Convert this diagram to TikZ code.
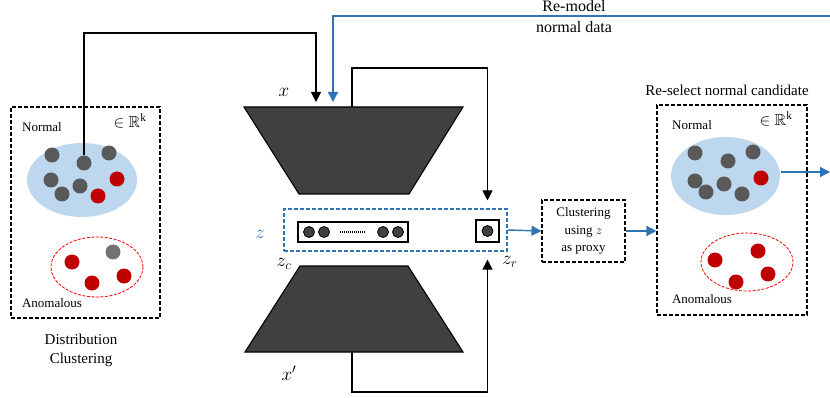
\RequirePackage{fix-cm}
\documentclass[tikz,border=0pt]{standalone}
\usepackage{fontspec}
\setmainfont{Liberation Serif}
\usepackage{amssymb}
\usetikzlibrary{arrows.meta,shapes.geometric}

\definecolor{lblue}{HTML}{BDD7EE}
\definecolor{mblue}{HTML}{2E75B6}
\definecolor{dred}{HTML}{C00000}
\definecolor{dgray}{HTML}{595959}
\definecolor{lgray}{HTML}{767171}
\definecolor{encgray}{HTML}{404040}

\begin{document}
\begin{tikzpicture}[x=1pt,y=-1pt,line width=1.1pt]
\tikzstyle{every node}=[inner sep=0pt]
\tikzstyle{gdot}=[circle,minimum size=15pt,fill=dgray]
\tikzstyle{rdot}=[circle,minimum size=15pt,fill=dred]
\tikzstyle{sdot}=[circle,minimum size=11pt,fill=encgray,draw=black,line width=0.8pt]
\tikzstyle{dbox}=[draw,dash pattern=on 4pt off 2pt]
\tikzstyle{cloud}=[ellipse,fill=lblue]
\tikzstyle{anom}=[ellipse,draw=red,dash pattern=on 3pt off 1.5pt,line width=0.8pt]
\tikzstyle{lbl}=[font=\fontsize{13}{15}\selectfont]
\tikzstyle{big}=[font=\fontsize{15}{19}\selectfont,align=center]
\tikzstyle{mth}=[font=\fontsize{19}{21}\selectfont]
\tikzstyle{arr}=[-{Triangle[width=10pt,length=10pt]}]
\tikzstyle{barr}=[arr,draw=mblue,line width=1.4pt]
\useasboundingbox (0,0) rectangle (830,398);

% left space: distribution clustering
\node (lbox) [dbox,minimum width=149pt,minimum height=211pt] at (85.5,212.5) {};
\node (lnorm) [cloud,minimum width=110pt,minimum height=74pt] at (82,180) {};
\node (lanom) [anom,minimum width=92pt,minimum height=60pt] at (97,267) {};
\node (ln1) [lbl] at (42,127) {Normal};
\node (la1) [lbl] at (52,303) {Anomalous};
\node (lr) [mth,font=\fontsize{16}{19}\selectfont] at (130,121) {$\in\mathbb{R}^{\mathrm{k}}$};
\node (ldc) [big] at (81,350) {Distribution\\Clustering};
\node (l1) [gdot] at (52,155) {};
\node (l2) [gdot] at (84,163) {};
\node (l3) [gdot] at (109,153) {};
\node (l4) [gdot] at (51,180) {};
\node (l5) [gdot] at (62,194) {};
\node (l6) [gdot] at (80,186) {};
\node (l7) [rdot] at (117,179) {};
\node (l8) [rdot] at (98,196) {};
\node (l9) [rdot] at (72,262) {};
\node (l10) [gdot,fill=lgray] at (113,252) {};
\node (l11) [rdot] at (92,283) {};
\node (l12) [rdot] at (124,276) {};

% encoder / decoder
\draw[fill=encgray] (244,107) -- (463,107) -- (409,194) -- (299,194) -- cycle;
\draw[fill=encgray] (300,266) -- (408,266) -- (463,352) -- (245,352) -- cycle;
\coordinate (xin) at (316,107);
\coordinate (xre) at (333,107);
\coordinate (etop) at (352,107);
\coordinate (dbot) at (352,352);
\node (x) [mth] at (284,92) {$x$};
\node (xp) [mth] at (289,373) {$x'$};

% latent space
\node (zbox) [dbox,draw=mblue,minimum width=223pt,minimum height=42pt] at (395.5,230) {};
\node (zc) [draw,fill=white,minimum width=110pt,minimum height=20pt] at (353,232) {};
\node (zr) [draw,fill=white,minimum width=23pt,minimum height=22pt] at (487.5,231) {};
\node (c1) [sdot] at (309,232) {};
\node (c2) [sdot] at (324,232) {};
\node (c3) [sdot] at (383,232) {};
\node (c4) [sdot] at (398,232) {};
\node (r0) [sdot] at (487.5,231) {};
\draw[line width=1.2pt,dash pattern=on 1pt off 1pt] (340,232) -- (366,232);
\node (z) [mth,text=mblue] at (260,234) {$z$};
\node (zcl) [mth] at (284,264) {$z_c$};
\node (zrl) [mth] at (510,262) {$z_r$};

% reconstruction loops
\draw[arr] (l2.north) |- ([yshift=74pt]xin) -- ([yshift=5pt]xin);
\draw (etop) -- ++(0,-39) -| (487.5,190);
\draw[arr] (487.5,190) -- ([yshift=8pt]zbox.north -| zr);
\draw (dbot) -- ++(0,40) -| (487.5,300);
\draw[arr] (487.5,300) -- ([yshift=-8pt]zbox.south -| zr);

% clustering on z
\node (clu) [dbox,minimum width=83pt,minimum height=62pt,font=\fontsize{13}{17.5}\selectfont,align=center] at (583.5,231) {Clustering\\using $z$\\as proxy};
\draw[barr] (zbox.east) -- (clu.west);

% right space: re-selected candidates
\node (rbox) [dbox,minimum width=150pt,minimum height=210pt] at (732,210) {};
\node (rsel) [big] at (727,90) {Re-select normal candidate};
\draw[barr] (clu.east) -- (clu.east -| rbox.west);
\node (rnorm) [cloud,minimum width=109pt,minimum height=78pt] at (725.5,176) {};
\node (ranom) [anom,minimum width=92pt,minimum height=58pt] at (747,262) {};
\node (rn1) [lbl] at (692,125) {Normal};
\node (ra1) [lbl] at (702,299) {Anomalous};
\node (rr) [mth,font=\fontsize{16}{19}\selectfont] at (776,119) {$\in\mathbb{R}^{\mathrm{k}}$};
\node (r1) [gdot] at (695,153) {};
\node (r2) [gdot] at (728,161) {};
\node (r3) [gdot] at (753,152) {};
\node (r4) [gdot] at (695,181) {};
\node (r5) [gdot] at (706,192) {};
\node (r6) [gdot] at (724,184) {};
\node (r7) [gdot] at (742,194) {};
\node (r8) [rdot] at (761,178) {};
\node (r9) [rdot] at (715,260) {};
\node (r10) [rdot] at (758,251) {};
\node (r11) [rdot] at (736,282) {};
\node (r12) [rdot] at (768,274) {};

% re-model loop back into the encoder
\coordinate (out) at (830,172);
\coordinate (back) at (830,16);
\draw[barr] (out -| rnorm.east) -- (out);
\draw[barr] (back) -| ([yshift=5pt]xre);
\node (remod) [big,font=\fontsize{16}{21}\selectfont] at (574,17) {Re-model\\normal data};
\end{tikzpicture}
\end{document}
